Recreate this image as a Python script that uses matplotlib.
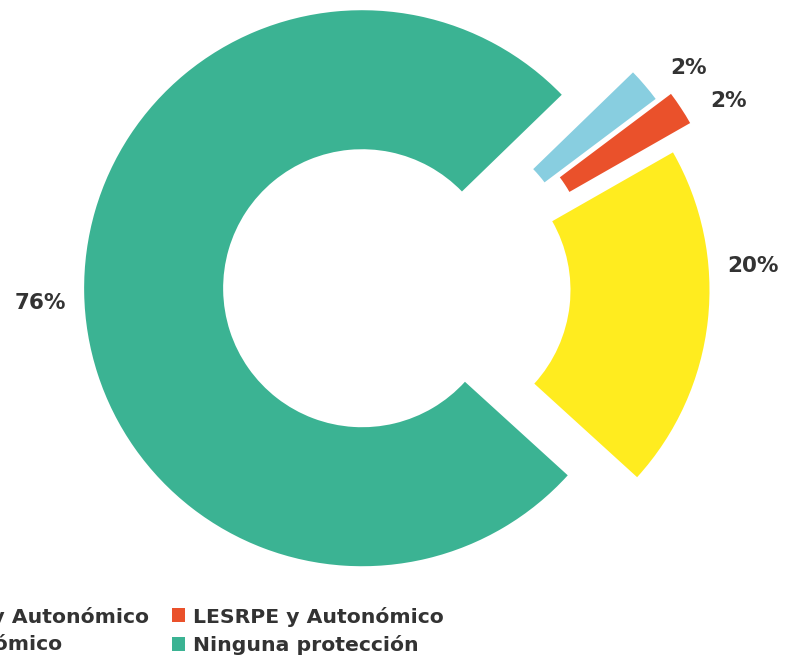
import numpy as np
import matplotlib.pyplot as plt

# datos del gráfico (orden en sentido horario desde arriba a la derecha)
categorias = ['CEEA y Autonómico', 'LESRPE y Autonómico', 'Autonómico', 'Ninguna protección']
porcentajes = [2, 2, 20, 76]
colores = ['#88CEE0', '#EA512B', '#FFEC1F', '#3BB393']
separacion = [0.12, 0.175, 0.085, 0.165]
# pequeño giro de cada etiqueta respecto al centro de su sector (grados)
giro_etiqueta = [-2.7, -3.6, 10.6, 1.8]

plt.rcParams['font.family'] = ['DejaVu Sans']
texto_color = '#333333'

fig = plt.figure(figsize=(7.86, 6.69), dpi=100)
ax = fig.add_axes([0, 0, 1, 1])

wedges, _, autotexts = ax.pie(
    porcentajes, colors=colores, explode=separacion, startangle=44.1,
    counterclock=False, radius=1.0, wedgeprops=dict(width=0.5, linewidth=0),
    autopct='%d%%', pctdistance=1.16,
    textprops=dict(color=texto_color, fontsize=15.5, fontweight='bold'))

for w, t, g in zip(wedges, autotexts, giro_etiqueta):
    ang = np.deg2rad((w.theta1 + w.theta2) / 2 + g)
    cx, cy = w.center
    t.set_position((cx + 1.16 * np.cos(ang), cy + 1.16 * np.sin(ang)))
    t.set_ha('center')
    t.set_va('center')

ax.set_xlim(-408 / 278, (786 - 408) / 278)
ax.set_ylim((287.5 - 669) / 278, 287.5 / 278)
ax.set_aspect('auto')
ax.axis('off')

orden = [0, 2, 1, 3]
leg = fig.legend([wedges[i] for i in orden], [categorias[i] for i in orden],
                 ncol=2, loc='lower left', bbox_to_anchor=(-0.139, 0.0),
                 frameon=False, fontsize=14.7, handlelength=0.68, handleheight=0.68,
                 handletextpad=0.35, columnspacing=1.1, labelspacing=0.4,
                 borderpad=0.2)
for txt in leg.get_texts():
    txt.set_color(texto_color)
    txt.set_fontweight('bold')

fig.savefig('out.png', dpi=100)
